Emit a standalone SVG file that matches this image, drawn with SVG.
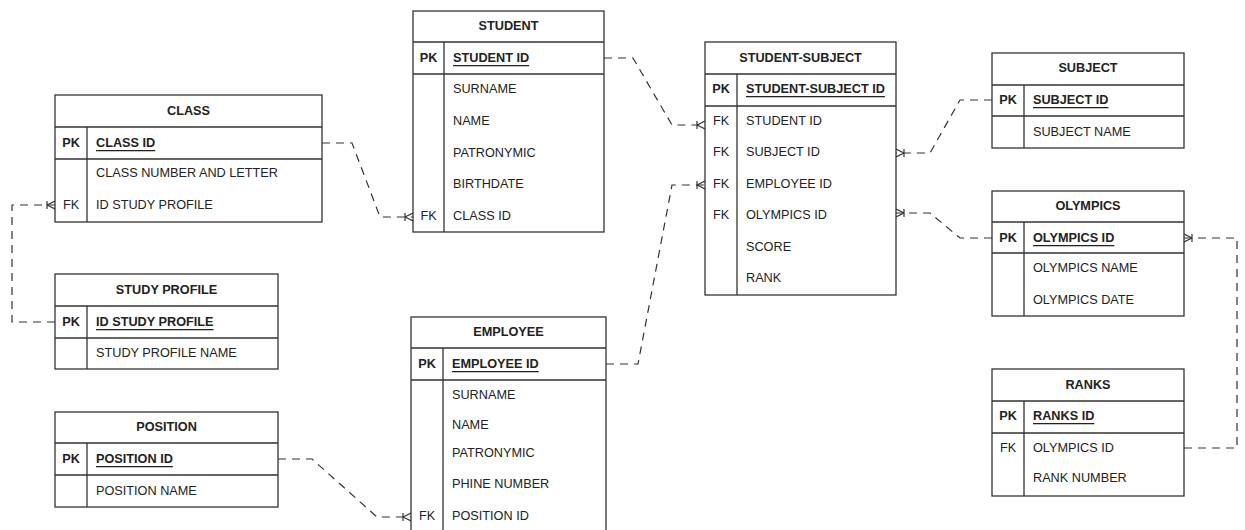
<svg xmlns="http://www.w3.org/2000/svg" width="1245" height="530" viewBox="0 0 1245 530">
<style>
.box{fill:#fff;stroke:#333;stroke-width:1.3}
.ln{stroke:#333;stroke-width:1.3;fill:none}
.t{font-family:"Liberation Sans",Arial,sans-serif;font-size:12.7px;fill:#222;dominant-baseline:central}
.h{font-weight:bold;text-anchor:middle}
.k{font-weight:bold;text-anchor:middle}
.f{text-anchor:middle}
.pk{font-weight:bold;text-decoration:underline}
.c{fill:none;stroke:#333;stroke-width:1.2;stroke-dasharray:8 6}
</style>
<defs>
<marker id="many" markerUnits="userSpaceOnUse" markerWidth="14" markerHeight="14" viewBox="0 0 14 14" refX="14" refY="7" orient="auto">
<path d="M6,3 V11 M6,7 L14,3 M6,7 L14,11" fill="none" stroke="#333" stroke-width="1.2"/>
</marker>
</defs>
<rect width="1245" height="530" fill="#fff"/>

<g id="connectors">
<path class="c" d="M322,143 H352 L380,217 H413" marker-end="url(#many)"/>
<path class="c" d="M604,58 H633 L672,125 H705" marker-end="url(#many)"/>
<path class="c" d="M606,364 H638 L672,185 H705" marker-end="url(#many)"/>
<path class="c" d="M992,100 H960 L930,153 H896" marker-end="url(#many)"/>
<path class="c" d="M992,238 H960 L930,213 H896" marker-end="url(#many)"/>
<path class="c" d="M1184,448 H1237 V238 H1184" marker-end="url(#many)"/>
<path class="c" d="M55,322 H12 V205 H55" marker-end="url(#many)"/>
<path class="c" d="M278,459 H312 L377,517 H411" marker-end="url(#many)"/>
</g>

<g id="class">
<rect class="box" x="55" y="95" width="267" height="127"/>
<path class="ln" d="M55,127 H322 M55,159 H322 M87,127 V222"/>
<text class="t h" x="188.5" y="111">CLASS</text>
<text class="t k" x="71" y="143">PK</text>
<text class="t pk" x="96" y="143">CLASS ID</text>
<text class="t" x="96" y="173">CLASS NUMBER AND LETTER</text>
<text class="t f" x="71" y="205">FK</text>
<text class="t" x="96" y="205">ID STUDY PROFILE</text>
</g>

<g id="student">
<rect class="box" x="413" y="11" width="191" height="221"/>
<path class="ln" d="M413,42 H604 M413,74 H604 M444,42 V232"/>
<text class="t h" x="508.5" y="26">STUDENT</text>
<text class="t k" x="428.5" y="58">PK</text>
<text class="t pk" x="453" y="58">STUDENT ID</text>
<text class="t" x="453" y="89">SURNAME</text>
<text class="t" x="453" y="121">NAME</text>
<text class="t" x="453" y="153">PATRONYMIC</text>
<text class="t" x="453" y="184">BIRTHDATE</text>
<text class="t f" x="428.5" y="216">FK</text>
<text class="t" x="453" y="216">CLASS ID</text>
</g>

<g id="student-subject">
<rect class="box" x="705" y="42" width="191" height="253"/>
<path class="ln" d="M705,74 H896 M705,106 H896 M737,74 V295"/>
<text class="t h" x="800.5" y="58">STUDENT-SUBJECT</text>
<text class="t k" x="721" y="89">PK</text>
<text class="t pk" x="746" y="89">STUDENT-SUBJECT ID</text>
<text class="t f" x="721" y="121">FK</text>
<text class="t" x="746" y="121">STUDENT ID</text>
<text class="t f" x="721" y="152">FK</text>
<text class="t" x="746" y="152">SUBJECT ID</text>
<text class="t f" x="721" y="184">FK</text>
<text class="t" x="746" y="184">EMPLOYEE ID</text>
<text class="t f" x="721" y="215">FK</text>
<text class="t" x="746" y="215">OLYMPICS ID</text>
<text class="t" x="746" y="247">SCORE</text>
<text class="t" x="746" y="278">RANK</text>
</g>

<g id="subject">
<rect class="box" x="992" y="53" width="192" height="95"/>
<path class="ln" d="M992,85 H1184 M992,116 H1184 M1024,85 V148"/>
<text class="t h" x="1088" y="68">SUBJECT</text>
<text class="t k" x="1008" y="100">PK</text>
<text class="t pk" x="1033" y="100">SUBJECT ID</text>
<text class="t" x="1033" y="132">SUBJECT NAME</text>
</g>

<g id="olympics">
<rect class="box" x="992" y="191" width="192" height="125"/>
<path class="ln" d="M992,222 H1184 M992,253 H1184 M1024,222 V316"/>
<text class="t h" x="1088" y="206">OLYMPICS</text>
<text class="t k" x="1008" y="238">PK</text>
<text class="t pk" x="1033" y="238">OLYMPICS ID</text>
<text class="t" x="1033" y="268">OLYMPICS NAME</text>
<text class="t" x="1033" y="300">OLYMPICS DATE</text>
</g>

<g id="ranks">
<rect class="box" x="992" y="369" width="192" height="127"/>
<path class="ln" d="M992,401 H1184 M992,433 H1184 M1024,401 V496"/>
<text class="t h" x="1088" y="385">RANKS</text>
<text class="t k" x="1008" y="416">PK</text>
<text class="t pk" x="1033" y="416">RANKS ID</text>
<text class="t f" x="1008" y="448">FK</text>
<text class="t" x="1033" y="448">OLYMPICS ID</text>
<text class="t" x="1033" y="478">RANK NUMBER</text>
</g>

<g id="study-profile">
<rect class="box" x="55" y="274" width="223" height="95"/>
<path class="ln" d="M55,306 H278 M55,338 H278 M87,306 V369"/>
<text class="t h" x="166.5" y="290">STUDY PROFILE</text>
<text class="t k" x="71" y="322">PK</text>
<text class="t pk" x="96" y="322">ID STUDY PROFILE</text>
<text class="t" x="96" y="353">STUDY PROFILE NAME</text>
</g>

<g id="position">
<rect class="box" x="55" y="412" width="223" height="95"/>
<path class="ln" d="M55,443 H278 M55,475 H278 M87,443 V507"/>
<text class="t h" x="166.5" y="427">POSITION</text>
<text class="t k" x="71" y="459">PK</text>
<text class="t pk" x="96" y="459">POSITION ID</text>
<text class="t" x="96" y="491">POSITION NAME</text>
</g>

<g id="employee">
<rect class="box" x="411" y="317" width="195" height="222"/>
<path class="ln" d="M411,348 H606 M411,380 H606 M443,348 V539"/>
<text class="t h" x="508.5" y="332">EMPLOYEE</text>
<text class="t k" x="427" y="364">PK</text>
<text class="t pk" x="452" y="364">EMPLOYEE ID</text>
<text class="t" x="452" y="395">SURNAME</text>
<text class="t" x="452" y="425">NAME</text>
<text class="t" x="452" y="453">PATRONYMIC</text>
<text class="t" x="452" y="484">PHINE NUMBER</text>
<text class="t f" x="427" y="516">FK</text>
<text class="t" x="452" y="516">POSITION ID</text>
</g>
</svg>
